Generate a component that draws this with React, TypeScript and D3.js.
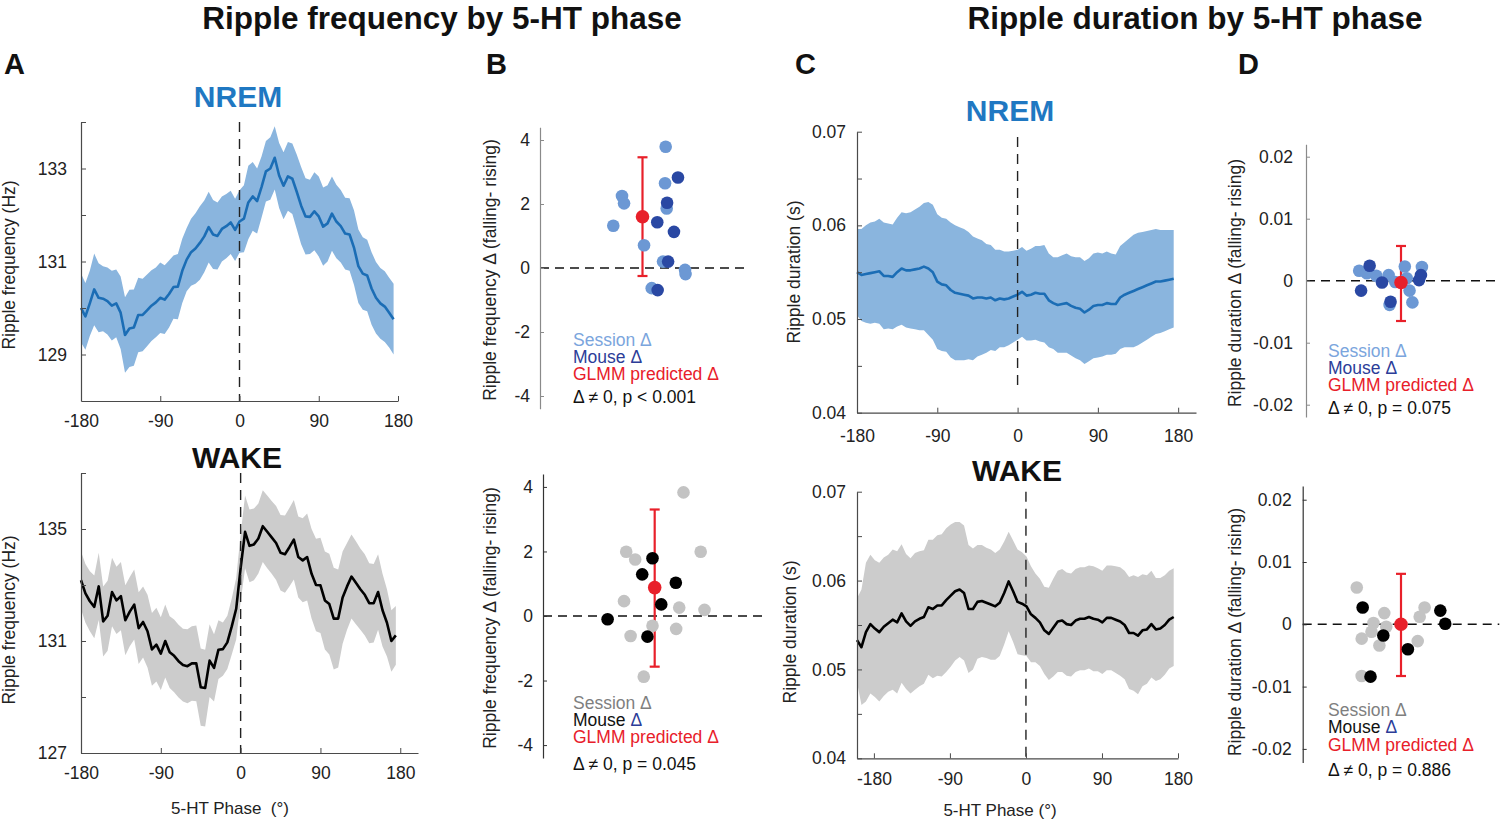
import { useEffect, useRef } from 'react';
import * as d3 from 'd3';

const FONT = "'Liberation Sans', Arial, Helvetica, sans-serif";

// phase bins (deg)
const phases = d3.range(-180, 180, 5);
const phaseTicks = [-180, -90, 0, 90, 180];

// A, NREM ripple frequency (Hz)
const nremFreqMean = [
  130.0, 129.82, 130.1, 130.4, 130.22, 130.2, 130.15, 130.05, 130.1, 129.9, 129.42, 129.56,
  129.58, 129.85, 129.85, 129.95, 130.05, 130.12, 130.22, 130.18, 130.3, 130.45, 130.46, 130.8,
  131.04, 131.2, 131.28, 131.4, 131.54, 131.74, 131.58, 131.55, 131.7, 131.76, 131.84, 131.68,
  131.86, 131.92, 132.27, 132.4, 132.3, 132.6, 132.94, 133.0, 133.23, 132.85, 132.63, 132.83,
  132.78, 132.5, 132.2, 131.97, 131.96, 132.08, 131.97, 131.75, 131.82, 132.03, 131.86, 131.76,
  131.6, 131.58, 131.3, 130.9, 130.74, 130.7, 130.42, 130.22, 130.1, 130.03, 129.9, 129.76
];
const nremFreqErr = [
  0.74, 0.72, 0.7, 0.77, 0.74, 0.7, 0.72, 0.75, 0.73, 0.78, 0.81, 0.83,
  0.82, 0.8, 0.78, 0.77, 0.76, 0.75, 0.76, 0.74, 0.72, 0.68, 0.7, 0.69,
  0.68, 0.72, 0.76, 0.79, 0.77, 0.76, 0.74, 0.72, 0.7, 0.69, 0.68, 0.67,
  0.67, 0.72, 0.79, 0.74, 0.7, 0.66, 0.65, 0.67, 0.68, 0.7, 0.72, 0.74,
  0.76, 0.8, 0.83, 0.82, 0.8, 0.84, 0.86, 0.84, 0.82, 0.8, 0.79, 0.78,
  0.77, 0.78, 0.8, 0.79, 0.78, 0.77, 0.78, 0.77, 0.76, 0.76, 0.75, 0.76
];

// A, WAKE ripple frequency (Hz)
const wakeFreqMean = [
  133.17, 132.7, 132.42, 132.22, 132.95, 131.7, 131.9, 132.75, 132.45, 132.6, 131.74, 132.05,
  132.3, 131.46, 131.68, 131.35, 130.7, 130.87, 130.55, 131.0, 130.6, 130.47, 130.28, 130.14,
  130.1, 130.2, 130.2, 129.35, 129.32, 130.3, 130.04, 130.69, 130.71, 130.95, 131.52, 132.15,
  133.6, 134.9, 134.4, 134.45, 134.66, 135.1, 134.9, 134.7, 134.5, 134.15, 134.1, 134.35,
  134.62, 134.0, 133.88, 134.0, 133.4, 133.0, 132.99, 132.45, 132.32, 131.8, 131.8, 132.55,
  132.95, 133.3, 133.08, 132.85, 132.65, 132.35, 132.35, 132.75, 132.1, 131.65, 131.0, 131.2
];
const wakeFreqErr = [
  1.03, 1.05, 1.07, 1.12, 1.2, 1.25, 1.25, 1.22, 1.2, 1.22, 1.25, 1.24,
  1.25, 1.28, 1.27, 1.3, 1.3, 1.32, 1.3, 1.3, 1.28, 1.3, 1.3, 1.3,
  1.32, 1.33, 1.35, 1.38, 1.37, 1.3, 1.2, 1.05, 0.95, 0.95, 1.0, 1.1,
  1.2, 1.3, 1.3, 1.28, 1.25, 1.28, 1.3, 1.3, 1.32, 1.35, 1.38, 1.4,
  1.42, 1.45, 1.5, 1.55, 1.6, 1.65, 1.7, 1.75, 1.8, 1.82, 1.75, 1.65,
  1.55, 1.5, 1.48, 1.45, 1.45, 1.43, 1.4, 1.35, 1.3, 1.2, 1.1, 1.05
];

// C, NREM ripple duration (s)
const nremDurMean = [
  0.055, 0.0547, 0.0548, 0.0549, 0.055, 0.0551, 0.0546, 0.0546, 0.0545, 0.055, 0.0554, 0.0552,
  0.0552, 0.0553, 0.0554, 0.0556, 0.0554, 0.055, 0.054, 0.0537, 0.0536, 0.0531, 0.0528, 0.0527,
  0.0526, 0.0525, 0.0522, 0.0523, 0.0523, 0.0522, 0.0523, 0.052, 0.0522, 0.0521, 0.0522, 0.0524,
  0.0526, 0.0529, 0.0525, 0.0526, 0.0528, 0.0527, 0.0527, 0.052, 0.0517, 0.0515, 0.0516, 0.0517,
  0.0514, 0.0512, 0.0511, 0.0507, 0.051, 0.0514, 0.0515, 0.0515, 0.0517, 0.0516, 0.0516, 0.0523,
  0.0526, 0.0528, 0.053, 0.0532, 0.0534, 0.0536, 0.0538, 0.054, 0.054, 0.0541, 0.0542, 0.0543
];
const nremDurErr = [
  0.0046, 0.0049, 0.0052, 0.0054, 0.0054, 0.0056, 0.0057, 0.0056, 0.0056, 0.0058, 0.006, 0.0061,
  0.0062, 0.0064, 0.0066, 0.0068, 0.0071, 0.0072, 0.0072, 0.0071, 0.0071, 0.0072, 0.0072, 0.0071,
  0.007, 0.0068, 0.0066, 0.0063, 0.0061, 0.0058, 0.0056, 0.0054, 0.0052, 0.0051, 0.005, 0.0049,
  0.0048, 0.0048, 0.0048, 0.0049, 0.005, 0.0051, 0.0052, 0.005, 0.0049, 0.0051, 0.0052, 0.0053,
  0.0053, 0.0054, 0.0055, 0.0055, 0.0055, 0.0056, 0.0056, 0.0055, 0.0055, 0.0054, 0.0053, 0.0055,
  0.0056, 0.0058, 0.006, 0.006, 0.0059, 0.0058, 0.0057, 0.0056, 0.0055, 0.0054, 0.0053, 0.0052
];

// C, WAKE ripple duration (s)
const wakeDurMean = [
  0.0533, 0.0525, 0.0542, 0.0551, 0.0546, 0.0542, 0.0548, 0.0552, 0.0556, 0.0553, 0.0563, 0.0554,
  0.0549, 0.0554, 0.0557, 0.0559, 0.057, 0.0568, 0.0572, 0.0572, 0.0578, 0.0583, 0.0588, 0.059,
  0.0586, 0.0568, 0.0568, 0.0576, 0.0577, 0.0575, 0.0573, 0.0571, 0.0575, 0.0586, 0.0599, 0.0588,
  0.0576, 0.0574, 0.0571, 0.0562, 0.0558, 0.0553, 0.0544, 0.054, 0.0547, 0.0554, 0.0555, 0.0551,
  0.055, 0.0555, 0.0557, 0.0557, 0.0559, 0.0557, 0.0556, 0.0553, 0.0558, 0.0558, 0.0556, 0.0554,
  0.055, 0.0541, 0.0541, 0.0538, 0.0544, 0.0545, 0.0551, 0.0545, 0.0546, 0.055, 0.0556, 0.0559
];
const wakeDurErr = [
  0.0047, 0.0065, 0.0078, 0.0078, 0.0077, 0.0078, 0.0078, 0.0077, 0.0079, 0.008, 0.0078, 0.0076,
  0.0076, 0.0077, 0.0076, 0.0075, 0.0076, 0.0078, 0.0079, 0.008, 0.0081, 0.008, 0.0078, 0.0076,
  0.0076, 0.0072, 0.0068, 0.0064, 0.0063, 0.0062, 0.0062, 0.006, 0.006, 0.0058, 0.0056, 0.0057,
  0.0059, 0.0058, 0.0056, 0.0054, 0.005, 0.0049, 0.0049, 0.0052, 0.0055, 0.0057, 0.0058, 0.0058,
  0.0058, 0.0058, 0.0058, 0.0058, 0.0058, 0.0059, 0.0058, 0.0058, 0.0059, 0.0059, 0.006, 0.0061,
  0.0061, 0.0063, 0.0065, 0.0066, 0.0063, 0.0061, 0.006, 0.0058, 0.0057, 0.0056, 0.0055, 0.0055
];

// B / D deltas: [jitter, delta]
const nremFreqSession = [
  [0.226, 3.79], [0.22, 2.65], [-0.2, 2.25], [-0.18, 2.02], [-0.285, 1.32], [0.236, 1.86],
  [0.015, 0.71], [0.2, 0.2], [0.415, -0.06], [0.42, -0.19], [0.09, -0.63]
];
const nremFreqMouse = [[0.346, 2.83], [0.24, 2.04], [0.144, 1.43], [0.307, 1.13], [0.25, 0.2], [0.148, -0.69]];
const nremFreqGlmm = [0.0, 1.6, -0.25, 3.46]; // x, estimate, lower, upper

const wakeFreqSession = [
  [0.283, 3.83], [-0.24, 1.99], [-0.158, 1.75], [0.44, 1.99], [-0.26, 0.46], [0.244, 0.26],
  [0.475, 0.19], [0.0, -0.3], [0.216, -0.4], [-0.2, -0.62], [-0.08, -1.88]
];
const wakeFreqMouse = [[0.0, 1.79], [-0.094, 1.29], [0.213, 1.03], [0.08, 0.36], [-0.41, -0.1], [-0.046, -0.64]];
const wakeFreqGlmm = [0.02, 0.88, -1.57, 3.3];

const nremDurSession = [
  [-0.44, 0.0016], [-0.36, 0.0012], [-0.26, 0.0008], [-0.13, 0.0009], [-0.06, -0.0002], [0.04, 0.0023],
  [0.06, 0.0004], [0.09, -0.0016], [0.12, -0.0035], [0.22, 0.0022], [-0.12, -0.0039]
];
const nremDurMouse = [[-0.42, -0.0016], [-0.33, 0.0024], [-0.2, -0.0003], [-0.11, -0.0034], [0.19, 0.0001], [0.21, 0.0009]];
const nremDurGlmm = [0.0, -0.0003, -0.0065, 0.0056];

const wakeDurSession = [
  [-0.45, 0.0059], [-0.17, 0.0018], [-0.28, 0.0002], [-0.3, -0.0012], [-0.4, -0.0023], [-0.22, -0.0034],
  [-0.15, -0.0004], [0.19, 0.0012], [0.24, 0.0027], [0.17, -0.0027], [-0.4, -0.0083]
];
const wakeDurMouse = [[-0.39, 0.0027], [-0.18, -0.0018], [0.07, -0.004], [0.4, 0.0022], [0.45, 0.0001], [-0.31, -0.0084]];
const wakeDurGlmm = [0.0, 0.0, -0.0083, 0.0081];

const BLUE = '#1b6db5';
const BLUE_BAND = '#8ab5de';
const GRAY_BAND = '#cccccc';
const SESSION_BLUE = '#6c98d4';
const MOUSE_BLUE = '#2a48a3';
const RED = '#e8202a';

// plain hyphen minus, like the figure
const hy = (s: string) => s.replace('\u2212', '-');

function styleAxis(g, color, size) {
  g.attr('font-family', FONT).attr('font-size', size);
  g.select('.domain').attr('stroke', color).attr('stroke-width', 1.2);
  g.selectAll('.tick line').attr('stroke', color).attr('stroke-width', 1);
  g.selectAll('.tick text').attr('fill', '#222');
}

function drawTrace(svg, c) {
  const g = svg.append('g');
  const xAx = c.xAxis || c.x;
  const area = d3.area()
    .x((d, i) => c.x(phases[i]))
    .y0((d, i) => c.y(d - c.err[i]))
    .y1((d, i) => c.y(d + c.err[i]));
  g.append('path').datum(c.mean).attr('d', area).attr('fill', c.band);

  const line = d3.line().x((d, i) => c.x(phases[i])).y(d => c.y(d));
  g.append('path').datum(c.mean)
    .attr('d', line)
    .attr('fill', 'none')
    .attr('stroke', c.color)
    .attr('stroke-width', 2.6)
    .attr('stroke-linejoin', 'round');

  const [y0, y1] = c.y.domain();
  g.append('line')
    .attr('x1', xAx(0)).attr('x2', xAx(0))
    .attr('y1', c.dash ? c.dash[0] : c.y(y1))
    .attr('y2', c.dash ? c.dash[1] : c.y(y0))
    .attr('stroke', '#222')
    .attr('stroke-width', 1.4)
    .attr('stroke-dasharray', '10,7');

  const ya = g.append('g')
    .attr('transform', `translate(${xAx.range()[0]},0)`)
    .call(d3.axisLeft(c.y).tickValues(c.yTicks).tickSize(-5).tickSizeOuter(0)
      .tickPadding(c.yPad).tickFormat(d => (c.keep(d) ? c.fmt(d) : '')));
  styleAxis(ya, '#4a4a4a', 17.5);

  const xa = g.append('g')
    .attr('transform', `translate(0,${c.y(y0)})`)
    .call(d3.axisBottom(xAx).tickValues(phaseTicks).tickSize(-5).tickSizeOuter(0)
      .tickPadding(c.xPad).tickFormat(d => String(d)));
  styleAxis(xa, '#4a4a4a', 17.5);

  g.append('text')
    .attr('transform', `translate(${c.yLabel[0]},${c.yLabel[1]}) rotate(-90)`)
    .attr('text-anchor', 'middle')
    .attr('font-family', FONT)
    .attr('font-size', 17.5)
    .attr('fill', '#222')
    .text(c.yText);

  g.append('text')
    .attr('x', c.title[0]).attr('y', c.title[1])
    .attr('text-anchor', 'middle')
    .attr('font-family', FONT)
    .attr('font-size', 30)
    .attr('font-weight', 'bold')
    .attr('fill', c.titleColor)
    .text(c.titleText);

  if (c.xText) {
    g.append('text')
      .attr('x', c.xText[0]).attr('y', c.xText[1])
      .attr('text-anchor', 'middle')
      .attr('font-family', FONT)
      .attr('font-size', 17)
      .attr('fill', '#222')
      .attr('xml:space', 'preserve')
      .text(c.xText[2]);
  }
}

function drawDelta(svg, c) {
  const g = svg.append('g');
  const [xl, xr] = c.x.range();

  g.append('line')
    .attr('x1', xl).attr('x2', xr)
    .attr('y1', c.y(0)).attr('y2', c.y(0))
    .attr('stroke', '#111')
    .attr('stroke-width', 1.4)
    .attr('stroke-dasharray', '9,6');

  const [gx, est, lo, hi] = c.glmm;
  const bx = c.x(gx);
  g.append('line').attr('x1', bx).attr('x2', bx).attr('y1', c.y(lo)).attr('y2', c.y(hi))
    .attr('stroke', RED).attr('stroke-width', 2.2);
  [lo, hi].forEach(v => {
    g.append('line').attr('x1', bx - 5).attr('x2', bx + 5).attr('y1', c.y(v)).attr('y2', c.y(v))
      .attr('stroke', RED).attr('stroke-width', 2.2);
  });

  g.selectAll('.session').data(c.session).enter().append('circle')
    .attr('cx', d => c.x(d[0])).attr('cy', d => c.y(d[1])).attr('r', 6.3)
    .attr('fill', c.sessionColor);
  g.selectAll('.mouse').data(c.mouse).enter().append('circle')
    .attr('cx', d => c.x(d[0])).attr('cy', d => c.y(d[1])).attr('r', 6.3)
    .attr('fill', c.mouseColor);
  g.append('circle').attr('cx', bx).attr('cy', c.y(est)).attr('r', 6.8).attr('fill', RED);

  const ya = g.append('g')
    .attr('transform', `translate(${xl},0)`)
    .call(d3.axisLeft(c.y).tickValues(c.yTicks).tickSize(-4).tickSizeOuter(0)
      .tickPadding(c.yPad).tickFormat(d => hy(c.fmt(d))));
  styleAxis(ya, c.axisColor, 17.5);

  g.append('text')
    .attr('transform', `translate(${c.yLabel[0]},${c.yLabel[1]}) rotate(-90)`)
    .attr('text-anchor', 'middle')
    .attr('font-family', FONT)
    .attr('font-size', 17.5)
    .attr('fill', '#222')
    .text(c.yText);

  const leg = g.append('g').attr('font-family', FONT).attr('font-size', 17.5);
  c.legend.forEach((parts, i) => {
    const t = leg.append('text').attr('x', c.legendX).attr('y', c.legendY[i]);
    parts.forEach(([txt, col]) => t.append('tspan').attr('fill', col).text(txt));
  });
}

export default function App() {
  const svgRef = useRef(null);

  useEffect(() => {
    const svg = d3.select(svgRef.current);
    svg.selectAll('*').remove();

    svg.append('rect').attr('width', 1500).attr('height', 820).attr('fill', '#fff');

    const heads = [
      ['Ripple frequency by 5-HT phase', 442],
      ['Ripple duration by 5-HT phase', 1195]
    ];
    heads.forEach(([t, x]) => {
      svg.append('text').attr('x', x).attr('y', 29).attr('text-anchor', 'middle')
        .attr('font-family', FONT).attr('font-size', 31.5).attr('font-weight', 'bold')
        .attr('fill', '#111').text(t);
    });
    [['A', 4], ['B', 486], ['C', 795], ['D', 1238]].forEach(([t, x]) => {
      svg.append('text').attr('x', x).attr('y', 74)
        .attr('font-family', FONT).attr('font-size', 29).attr('font-weight', 'bold')
        .attr('fill', '#111').text(t);
    });

    const hzFmt = d => String(d);
    const sFmt = d3.format('.2f');
    const onTenth = d => Math.abs(Math.round(d * 100) - d * 100) < 1e-6;

    // A top
    drawTrace(svg, {
      x: d3.scaleLinear().domain([-180, 180]).range([81, 398]),
      y: d3.scaleLinear().domain([128, 134]).range([401, 122]),
      mean: nremFreqMean, err: nremFreqErr, color: BLUE, band: BLUE_BAND,
      yTicks: d3.range(129, 135), keep: d => d % 2 === 1, fmt: hzFmt, yPad: 14, xPad: 14,
      yLabel: [15, 265], yText: 'Ripple frequency (Hz)',
      title: [238, 107], titleText: 'NREM', titleColor: '#1f78c2'
    });
    // A bottom
    drawTrace(svg, {
      x: d3.scaleLinear().domain([-180, 200]).range([81, 418]),
      y: d3.scaleLinear().domain([127, 137]).range([753, 473]),
      mean: wakeFreqMean, err: wakeFreqErr, color: '#000', band: GRAY_BAND,
      yTicks: d3.range(127, 138, 2), keep: d => (d - 127) % 4 === 0, fmt: hzFmt, yPad: 14, xPad: 14,
      yLabel: [15, 620], yText: 'Ripple frequency (Hz)',
      title: [237, 468], titleText: 'WAKE', titleColor: '#111',
      xText: [230, 814, '5-HT Phase  (°)']
    });
    // C top
    const xDur = d3.scaleLinear().domain([-180, 200]).range([857, 1196]);
    drawTrace(svg, {
      x: xDur,
      y: d3.scaleLinear().domain([0.04, 0.07]).range([412.7, 131.7]),
      mean: nremDurMean, err: nremDurErr, color: BLUE, band: BLUE_BAND,
      yTicks: d3.range(8, 15).map(k => k * 0.005), keep: onTenth, fmt: sFmt, yPad: 11, xPad: 17,
      dash: [137, 392],
      yLabel: [800, 272], yText: 'Ripple duration (s)',
      title: [1010, 121], titleText: 'NREM', titleColor: '#1f78c2'
    });
    // C bottom
    drawTrace(svg, {
      x: xDur,
      xAxis: d3.scaleLinear().domain([-200, 180]).range([857, 1178]),
      y: d3.scaleLinear().domain([0.04, 0.07]).range([758.3, 491.7]),
      mean: wakeDurMean, err: wakeDurErr, color: '#000', band: GRAY_BAND,
      yTicks: d3.range(8, 15).map(k => k * 0.005), keep: onTenth, fmt: sFmt, yPad: 11, xPad: 14,
      yLabel: [796, 632], yText: 'Ripple duration (s)',
      title: [1017, 481], titleText: 'WAKE', titleColor: '#111',
      xText: [1000, 816, '5-HT Phase (°)']
    });

    const freqTicks = [-4, -2, 0, 2, 4];
    const durTicks = [-0.02, -0.01, 0, 0.01, 0.02];
    const durFmt = d => (d === 0 ? '0' : d3.format('.2f')(d));

    const blueLegend = p => [
      [['Session Δ', '#7ba5dd']],
      [['Mouse Δ', '#2c3d98']],
      [['GLMM predicted Δ', RED]],
      [[`Δ ≠ 0, p ${p}`, '#111']]
    ];
    const grayLegend = p => [
      [['Session Δ', '#7f7f7f']],
      [['Mouse ', '#111'], ['Δ', '#2c3d98']],
      [['GLMM predicted Δ', RED]],
      [[`Δ ≠ 0, p ${p}`, '#111']]
    ];

    // B top
    drawDelta(svg, {
      x: d3.scaleLinear().domain([-1, 1]).range([540, 745]),
      y: d3.scaleLinear().domain([-4.4, 4.4]).range([408.8, 127.2]),
      yTicks: freqTicks, fmt: d => String(d), yPad: 10, axisColor: '#8a8a8a',
      session: nremFreqSession, mouse: nremFreqMouse, glmm: nremFreqGlmm,
      sessionColor: SESSION_BLUE, mouseColor: MOUSE_BLUE,
      yLabel: [496, 270], yText: 'Ripple frequency Δ (falling- rising)',
      legendX: 573, legendY: [346, 363, 380, 403], legend: blueLegend('< 0.001')
    });
    // B bottom
    drawDelta(svg, {
      x: d3.scaleLinear().domain([-1, 1]).range([543, 762]),
      y: d3.scaleLinear().domain([-4.4, 4.4]).range([758, 474]),
      yTicks: freqTicks, fmt: d => String(d), yPad: 10, axisColor: '#333',
      session: wakeFreqSession, mouse: wakeFreqMouse, glmm: wakeFreqGlmm,
      sessionColor: '#c3c3c3', mouseColor: '#000',
      yLabel: [496, 618], yText: 'Ripple frequency Δ (falling- rising)',
      legendX: 573, legendY: [709, 726, 743, 770], legend: grayLegend('= 0.045')
    });
    // D top
    drawDelta(svg, {
      x: d3.scaleLinear().domain([-1, 1]).range([1306, 1496]),
      y: d3.scaleLinear().domain([-0.022, 0.022]).range([417.1, 144.3]),
      yTicks: durTicks, fmt: durFmt, yPad: 13, axisColor: '#8a8a8a',
      session: nremDurSession, mouse: nremDurMouse, glmm: nremDurGlmm,
      sessionColor: SESSION_BLUE, mouseColor: MOUSE_BLUE,
      yLabel: [1241, 283], yText: 'Ripple duration Δ (falling- rising)',
      legendX: 1328, legendY: [357, 374, 391, 414], legend: blueLegend('= 0.075')
    });
    // D bottom
    drawDelta(svg, {
      x: d3.scaleLinear().domain([-1, 1]).range([1302.7, 1499.3]),
      y: d3.scaleLinear().domain([-0.0222, 0.0222]).range([762.6, 486]),
      yTicks: durTicks, fmt: durFmt, yPad: 11, axisColor: '#333',
      session: wakeDurSession, mouse: wakeDurMouse, glmm: wakeDurGlmm,
      sessionColor: '#c3c3c3', mouseColor: '#000',
      yLabel: [1241, 632], yText: 'Ripple duration Δ (falling- rising)',
      legendX: 1328, legendY: [716, 733, 751, 776], legend: grayLegend('= 0.886')
    });
  }, []);

  return (
    <svg
      ref={svgRef}
      width={1500}
      height={820}
      style={{ position: 'absolute', left: 0, top: 0, display: 'block' }}
    />
  );
}
